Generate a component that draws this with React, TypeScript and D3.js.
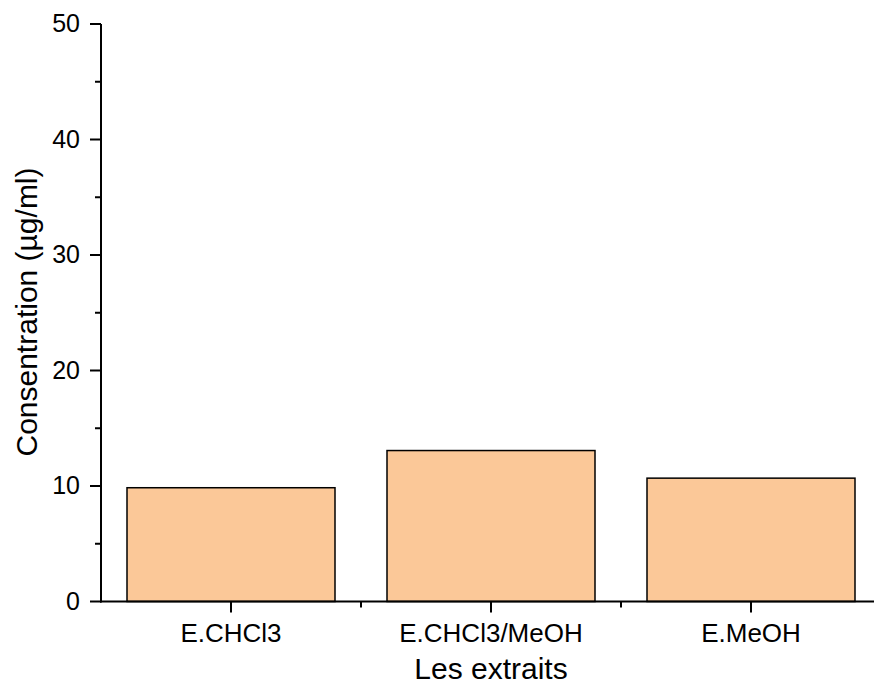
import React, { useEffect, useRef } from 'react'
import * as d3 from 'd3'

const categories = ['E.CHCl3', 'E.CHCl3/MeOH', 'E.MeOH']
const values = [9.85, 13.07, 10.68]
const yTicks = [0, 10, 20, 30, 40, 50]
const yMinorTicks = [5, 15, 25, 35, 45]

const App = () => {
  const ref = useRef<SVGSVGElement>(null)

  useEffect(() => {
    const svg = d3.select(ref.current)
    svg.selectAll('*').remove()

    const font = 'Liberation Sans, Arial, sans-serif'
    const left = 101
    const bottom = 601.5
    const top = 24

    // category positions as numbers, 1..3, axis spans 0.5..3.5
    const x = d3.scaleLinear().domain([0.5, 3.5]).range([left, 881])
    const y = d3.scaleLinear().domain([0, 50]).range([bottom, top])
    const barW = (x(1.4) - x(0.6))

    svg.selectAll('rect.bar')
      .data(values)
      .join('rect')
      .attr('class', 'bar')
      .attr('x', (d, i) => x(i + 1) - barW / 2)
      .attr('y', d => y(d))
      .attr('width', barW)
      .attr('height', d => y(0) - y(d))
      .attr('fill', '#fbc898')
      .attr('stroke', '#000')
      .attr('stroke-width', 1.5)

    // y axis
    const gy = svg.append('g')
    gy.append('line')
      .attr('x1', left).attr('x2', left)
      .attr('y1', y(0) + 1).attr('y2', y(50))
      .attr('stroke', '#000').attr('stroke-width', 2)
    gy.selectAll('line.major')
      .data(yTicks)
      .join('line')
      .attr('class', 'major')
      .attr('x1', left - 11).attr('x2', left)
      .attr('y1', d => y(d)).attr('y2', d => y(d))
      .attr('stroke', '#000').attr('stroke-width', 2)
    gy.selectAll('line.minor')
      .data(yMinorTicks)
      .join('line')
      .attr('class', 'minor')
      .attr('x1', left - 6).attr('x2', left)
      .attr('y1', d => y(d)).attr('y2', d => y(d))
      .attr('stroke', '#000').attr('stroke-width', 2)
    gy.selectAll('text')
      .data(yTicks)
      .join('text')
      .attr('x', 80)
      .attr('y', d => y(d) + 8)
      .attr('text-anchor', 'end')
      .style('font-family', font)
      .style('font-size', '25px')
      .text(d => d)

    // x axis
    const gx = svg.append('g')
    gx.append('line')
      .attr('x1', left - 1).attr('x2', 874)
      .attr('y1', bottom).attr('y2', bottom)
      .attr('stroke', '#000').attr('stroke-width', 2)
    gx.selectAll('line.major')
      .data(categories)
      .join('line')
      .attr('class', 'major')
      .attr('x1', (d, i) => x(i + 1)).attr('x2', (d, i) => x(i + 1))
      .attr('y1', bottom).attr('y2', bottom + 11)
      .attr('stroke', '#000').attr('stroke-width', 2)
    gx.selectAll('line.minor')
      .data([1.5, 2.5])
      .join('line')
      .attr('class', 'minor')
      .attr('x1', d => x(d)).attr('x2', d => x(d))
      .attr('y1', bottom).attr('y2', bottom + 6)
      .attr('stroke', '#000').attr('stroke-width', 2)
    gx.selectAll('text')
      .data(categories)
      .join('text')
      .attr('x', (d, i) => x(i + 1))
      .attr('y', 642)
      .attr('text-anchor', 'middle')
      .style('font-family', font)
      .style('font-size', '26px')
      .text(d => d)

    svg.append('text')
      .attr('x', x(2))
      .attr('y', 679)
      .attr('text-anchor', 'middle')
      .style('font-family', font)
      .style('font-size', '30px')
      .text('Les extraits')

    svg.append('text')
      .attr('transform', `translate(37,312) rotate(-90)`)
      .attr('text-anchor', 'middle')
      .style('font-family', font)
      .style('font-size', '30px')
      .text('Consentration (µg/ml)')
  }, [])

  return (
    <svg ref={ref} width={874} height={688}
      style={{ position: 'absolute', left: 0, top: 0, background: '#fff' }} />
  )
}

export default App
